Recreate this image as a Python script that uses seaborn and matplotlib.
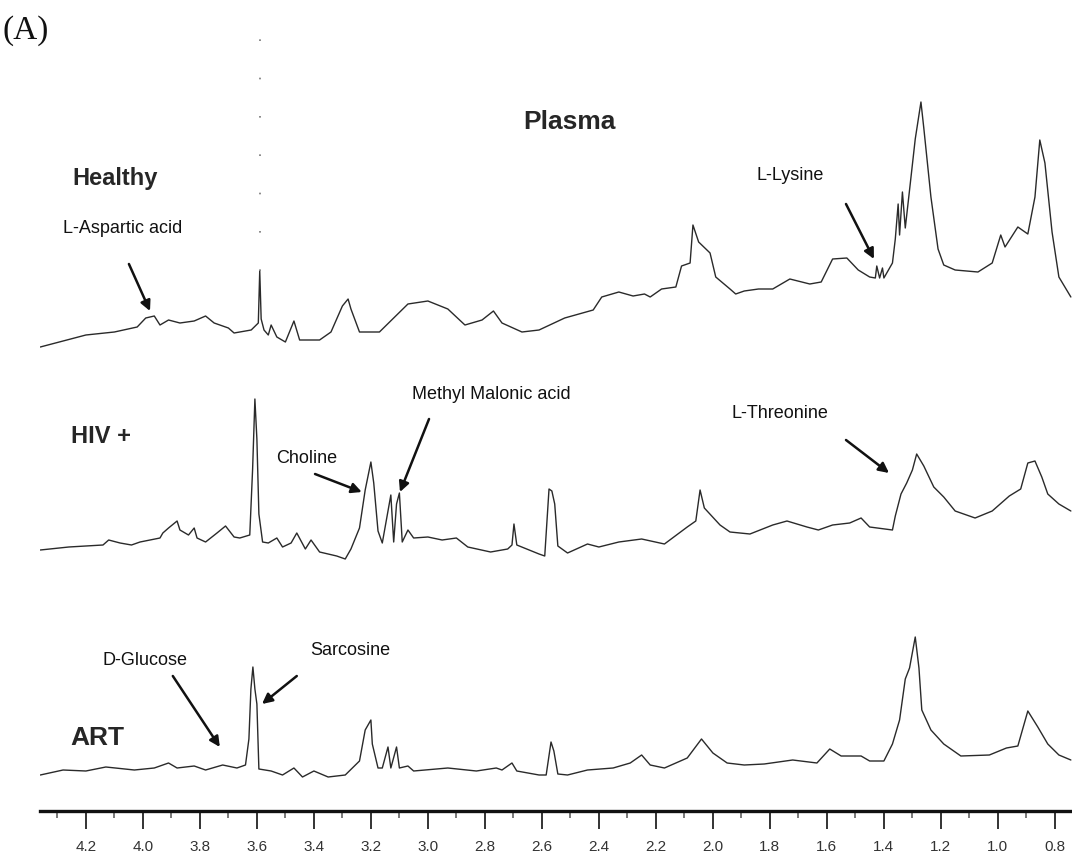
import matplotlib
matplotlib.use("Agg")
import matplotlib.pyplot as plt
import seaborn as sns
import pandas as pd
from matplotlib.ticker import MultipleLocator, FixedLocator

# ---------------- data (chemical shift in ppm, relative intensity) ----------------
healthy_ppm = [4.36, 4.20, 4.10, 4.02, 3.99, 3.96, 3.94, 3.91, 3.87, 3.82, 3.78, 3.75, 3.70, 3.68,
               3.62, 3.595, 3.59, 3.585, 3.575, 3.56, 3.55, 3.53, 3.50, 3.47, 3.45, 3.38, 3.34, 3.30,
               3.28, 3.27, 3.24, 3.17, 3.07, 3.00, 2.93, 2.87, 2.81, 2.77, 2.74, 2.67, 2.61, 2.52,
               2.42, 2.39, 2.33, 2.28, 2.24, 2.22, 2.18, 2.13, 2.11, 2.08, 2.07, 2.05, 2.01, 1.99,
               1.94, 1.92, 1.89, 1.84, 1.79, 1.73, 1.66, 1.62, 1.58, 1.53, 1.49, 1.45, 1.43, 1.425,
               1.415, 1.405, 1.40, 1.37, 1.36, 1.35, 1.345, 1.335, 1.325, 1.31, 1.29, 1.27, 1.26,
               1.235, 1.21, 1.19, 1.15, 1.07, 1.02, 0.99, 0.975, 0.93, 0.895, 0.87, 0.853, 0.835,
               0.81, 0.786, 0.744]
healthy_int = [2, 14, 17, 22, 31, 33, 24, 29, 26, 28, 33, 26, 21, 16,
               19, 26, 78, 30, 19, 14, 24, 12, 7, 28, 9, 9, 17, 43,
               50, 40, 17, 17, 45, 48, 40, 24, 29, 38, 26, 17, 19, 31,
               39, 52, 57, 53, 55, 52, 60, 62, 83, 86, 124, 107, 96, 72,
               60, 55, 58, 60, 60, 70, 65, 67, 90, 91, 79, 72, 71, 83,
               71, 81, 71, 86, 110, 145, 114, 157, 121, 159, 210, 247, 221,
               152, 100, 84, 79, 77, 86, 114, 102, 122, 115, 152, 209, 186,
               117, 72, 52]

hiv_ppm = [4.36, 4.26, 4.14, 4.12, 4.08, 4.04, 4.01, 3.94, 3.93, 3.91, 3.88, 3.87, 3.84, 3.82,
           3.81, 3.78, 3.74, 3.71, 3.68, 3.66, 3.625, 3.615, 3.607, 3.600, 3.593, 3.58, 3.56,
           3.53, 3.51, 3.48, 3.46, 3.43, 3.41, 3.38, 3.35, 3.32, 3.29, 3.27, 3.24, 3.22, 3.20,
           3.19, 3.175, 3.16, 3.13, 3.12, 3.11, 3.10, 3.09, 3.07, 3.05, 3.00, 2.95, 2.90, 2.86,
           2.78, 2.72, 2.705, 2.698, 2.688, 2.61, 2.59, 2.575, 2.565, 2.555, 2.544, 2.51, 2.44,
           2.40, 2.33, 2.25, 2.17, 2.09, 2.06, 2.045, 2.03, 1.975, 1.94, 1.87, 1.79, 1.74, 1.67,
           1.63, 1.58, 1.52, 1.48, 1.45, 1.37, 1.36, 1.34, 1.32, 1.30, 1.285, 1.26, 1.225, 1.19,
           1.15, 1.08, 1.02, 0.96, 0.92, 0.895, 0.87, 0.846, 0.825, 0.786, 0.744]
hiv_int = [9, 12, 14, 19, 16, 14, 17, 21, 26, 31, 38, 29, 24, 31,
           21, 17, 26, 33, 22, 21, 24, 90, 160, 120, 45, 17, 16,
           21, 12, 16, 26, 10, 19, 7, 5, 3, 0, 10, 31, 69, 97,
           76, 28, 16, 64, 17, 55, 66, 17, 29, 21, 22, 19, 21, 12,
           7, 10, 14, 35, 14, 5, 3, 70, 68, 55, 13, 6, 15,
           12, 17, 20, 15, 32, 38, 69, 51, 34, 27, 25, 34, 38, 32,
           29, 34, 36, 41, 32, 29, 43, 65, 76, 89, 105, 93, 72, 62,
           48, 41, 48, 63, 70, 96, 98, 82, 65, 55, 48]

art_ppm = [4.36, 4.28, 4.20, 4.13, 4.03, 3.96, 3.91, 3.88, 3.82, 3.78, 3.72, 3.67, 3.64, 3.628,
           3.621, 3.614, 3.607, 3.600, 3.593, 3.55, 3.51, 3.47, 3.44, 3.40, 3.35, 3.29, 3.24,
           3.22, 3.20, 3.195, 3.175, 3.16, 3.14, 3.13, 3.11, 3.10, 3.07, 3.05, 2.93, 2.83, 2.76,
           2.74, 2.705, 2.688, 2.61, 2.585, 2.568, 2.558, 2.544, 2.51, 2.44, 2.35, 2.29, 2.25,
           2.22, 2.17, 2.09, 2.04, 2.00, 1.95, 1.89, 1.82, 1.72, 1.635, 1.59, 1.55, 1.48, 1.45,
           1.40, 1.37, 1.345, 1.325, 1.31, 1.29, 1.277, 1.267, 1.235, 1.19, 1.13, 1.03, 0.97,
           0.93, 0.895, 0.86, 0.825, 0.786, 0.744]
art_int = [4, 9, 8, 12, 9, 11, 16, 11, 13, 9, 14, 11, 14, 40,
           90, 112, 90, 75, 10, 8, 4, 11, 2, 8, 2, 4, 18,
           49, 59, 35, 11, 11, 32, 11, 32, 11, 13, 8, 11, 8, 11,
           9, 16, 8, 4, 4, 37, 28, 5, 4, 9, 11, 16, 24,
           14, 11, 21, 40, 26, 16, 14, 15, 19, 16, 30, 23, 23, 18,
           18, 35, 59, 100, 111, 142, 111, 69, 49, 35, 23, 24, 31,
           33, 68, 52, 35, 24, 19]

sample_names = ["Healthy", "HIV +", "ART"]
major_ticks = [4.2, 4.0, 3.8, 3.6, 3.4, 3.2, 3.0, 2.8, 2.6, 2.4, 2.2, 2.0, 1.8, 1.6, 1.4, 1.2, 1.0, 0.8]
tick_labels = ["4.2", "4.0", "3.8", "3.6", "3.4", "3.2", "3.0", "2.8", "2.6", "2.4",
               "2.2", "2.0", "1.8", "1.6", "1.4", "1.2", "1.0", "0.8"]

# ---------------- style ----------------
sns.set_style("white")
plt.rcParams['font.family'] = ['Liberation Sans', 'DejaVu Sans']

W, H = 1072, 853
fig = plt.figure(figsize=(W / 100, H / 100), dpi=100)
ax = fig.add_axes([40 / W, (H - 812) / H, 1 - 40 / W, 812 / H])

offsets = {"Healthy": 430, "HIV +": 220, "ART": 0}
traces = {"Healthy": (healthy_ppm, healthy_int),
          "HIV +": (hiv_ppm, hiv_int),
          "ART": (art_ppm, art_int)}

for name in sample_names:
    xs, ys = traces[name]
    df = pd.DataFrame({"ppm": xs, "intensity": [v + offsets[name] for v in ys]})
    sns.lineplot(data=df, x="ppm", y="intensity", ax=ax, estimator=None, sort=False,
                 color="#2a2a2a", linewidth=1.0)

# faint dotted scan artefact above the 3.6 ppm spike of the top trace
ax.vlines(3.59, 430 + 78, 775, colors="#777777", linestyles=(0, (1, 22)), linewidth=1.2)

ax.set_xlim(4.361, 0.740)
ax.set_ylim(-32, 780)

# axis styling
for s in ["top", "right", "left"]:
    ax.spines[s].set_visible(False)
ax.spines["bottom"].set_linewidth(2.4)
ax.spines["bottom"].set_color("#111111")
ax.set_yticks([])
ax.set_xlabel("")
ax.set_ylabel("")
ax.xaxis.set_major_locator(FixedLocator(major_ticks))
ax.set_xticklabels(tick_labels)
ax.xaxis.set_minor_locator(MultipleLocator(0.1))
ax.tick_params(axis="x", which="major", direction="out", length=13, width=1.4,
               color="#333333", labelsize=11, pad=7, labelcolor="#333333", bottom=True)
ax.tick_params(axis="x", which="minor", direction="out", length=5, width=1.1,
               color="#555555", bottom=True)
ax.grid(False)

# ---------------- text ----------------
fig.text(3 / W, 1 - 31 / H, "(A)", family=["Liberation Serif", "DejaVu Serif"],
         fontsize=24, va="center", ha="left", color="#111111")

ax.text(2.502, 658, "Plasma", fontsize=19, fontweight="bold", ha="center", va="center")

label_kw = dict(fontweight="bold", ha="left", va="baseline", fontsize=17)
ax.text(4.246, 595, "Healthy", **label_kw)
ax.text(4.253, 337, "HIV +", **label_kw)
ax.text(4.256, 35, "ART", fontweight="bold", ha="left", va="baseline", fontsize=19)

ann_kw = dict(fontsize=13, ha="left", va="baseline", color="#111111")
arrow = dict(arrowstyle="-|>,head_length=0.6,head_width=0.3", color="#111111", lw=1.8,
             shrinkA=0, shrinkB=0)

ax.text(4.281, 547, "L-Aspartic acid", **ann_kw)
ax.annotate("", xy=(3.975, 468), xytext=(4.049, 515), arrowprops=arrow)

ax.text(1.846, 600, "L-Lysine", **ann_kw)
ax.annotate("", xy=(1.435, 520), xytext=(1.533, 575), arrowprops=arrow)

ax.text(3.533, 317, "Choline", **ann_kw)
ax.annotate("", xy=(3.232, 287), xytext=(3.396, 305), arrowprops=arrow)

ax.text(3.056, 381, "Methyl Malonic acid", **ann_kw)
ax.annotate("", xy=(3.098, 287), xytext=(2.996, 360), arrowprops=arrow)

ax.text(1.933, 362, "L-Threonine", **ann_kw)
ax.annotate("", xy=(1.382, 306), xytext=(1.533, 339), arrowprops=arrow)

ax.text(4.140, 115, "D-Glucose", **ann_kw)
ax.annotate("", xy=(3.730, 32), xytext=(3.895, 103), arrowprops=arrow)

ax.text(3.414, 125, "Sarcosine", **ann_kw)
ax.annotate("", xy=(3.582, 75), xytext=(3.460, 103), arrowprops=arrow)

fig.savefig("out.png", dpi=100, facecolor="white")
